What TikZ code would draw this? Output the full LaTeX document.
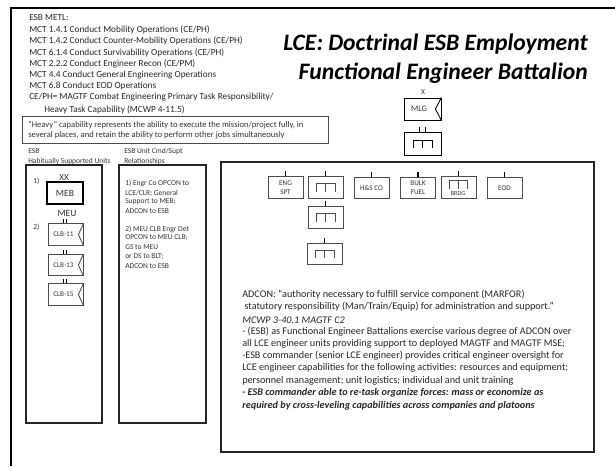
\documentclass[tikz,border=0pt]{standalone}
\usepackage{fontspec}
\setmainfont{Carlito}
\usetikzlibrary{calc}
\tikzset{
  panel/.style={draw=black!85, line width=0.75pt},
  unitbox/.style={draw=black!70, line width=0.6pt, minimum width=0.875cm, minimum height=0.53cm, inner sep=0pt, font=\fontsize{5.1}{6.4}\selectfont, align=center, text=black!80},
  listline/.style={anchor=west, inner sep=0pt, font=\fontsize{6.6}{7}\selectfont, text=black!85},
  bodyline/.style={anchor=west, inner sep=0pt, font=\fontsize{7.25}{8}\selectfont, text=black!85},
  smallline/.style={anchor=west, inner sep=0pt, font=\fontsize{5.35}{6}\selectfont, text=black!80},
  titleline/.style={anchor=east, inner sep=0pt, font=\fontsize{16.8}{18}\selectfont\bfseries\itshape},
  tick/.style={draw=black, line width=0.8pt}
}
\begin{document}
\begin{tikzpicture}[x=0.025cm,y=-0.025cm]
\useasboundingbox (0,0) rectangle (615,466);
% Outer frame
\coordinate (frameA) at (11,466);
\coordinate (frameB) at (11,8);
\coordinate (frameC) at (615,8);
\draw[black, line width=1.5pt] (frameA) -- (frameB) -- (frameC);
% METL list
\foreach \y/\t [count=\i] in {18/{ESB METL:},30/{MCT 1.4.1 Conduct Mobility Operations (CE/PH)},41/{MCT 1.4.2 Conduct Counter-Mobility Operations (CE/PH)},53/{MCT 6.1.4 Conduct Survivability Operations (CE/PH)},64/{MCT 2.2.2 Conduct Engineer Recon (CE/PM)},75/{MCT 4.4 Conduct General Engineering Operations},86/{MCT 6.8  Conduct EOD Operations},97/{CE/PH= MAGTF Combat Engineering Primary Task Responsibility/}} {
  \node[listline] (metl\i) at (29,\y) {\t};
}
\node[listline] (metl9) at (44,110) {Heavy Task Capability (MCWP 4-11.5)};
% Title
\node[titleline] (title1) at (588,44) {LCE: Doctrinal ESB Employment};
\node[titleline] (title2) at (588,73) {Functional Engineer Battalion};
% Heavy note
\draw[panel, draw=black!70, line width=0.6pt] (22,116) rectangle (328,143);
\node[smallline, font=\fontsize{6.1}{7}\selectfont] (heavy1) at (28,125) {``Heavy'' capability represents the ability to execute the mission/project fully, in};
\node[smallline, font=\fontsize{6.1}{7}\selectfont] (heavy2) at (28,135) {several places, and retain the ability to perform other jobs simultaneously};
% Panels
\draw[panel] (26,165) rectangle (102,423);
\draw[panel] (119,165) rectangle (206,423);
\draw[panel] (221,162) rectangle (594,452);
\node[smallline] (esbA) at (28,151) {ESB};
\node[smallline] (esbB) at (28,161) {Habitually Supported Units};
\node[smallline] (relA) at (124,151) {ESB Unit Cmd/Supt};
\node[smallline] (relB) at (124,161) {Relationships};
% Supported units
\node[smallline] (numA) at (33,181) {1)};
\node[smallline] (numB) at (33,227) {2)};
\node[smallline, anchor=center, font=\fontsize{6.5}{7}\selectfont] (xx) at (64,178) {XX};
\node[unitbox, draw=black, line width=1.1pt, minimum width=0.9cm, minimum height=0.55cm, font=\fontsize{6.8}{7}\selectfont] (meb) at (65,193) {MEB};
\node[smallline, anchor=center, font=\fontsize{6.8}{7}\selectfont] (meu) at (67,213) {MEU};
\foreach \n/\y/\t in {clbA/234.5/CLB-11,clbB/265/CLB-13,clbC/294.5/CLB-15} {
  \node[unitbox] (\n) at (65.5,\y) {\t\hspace{3pt}};
  \draw[black!70, line width=0.6pt] (\n.north east) -- ($(\n.east)+(-5,0)$) -- (\n.south east);
  \draw[tick] ($(\n.north)+(-2,0)$) -- ++(0,-4);
  \draw[tick] ($(\n.north)+(1,0)$) -- ++(0,-4);
}
% Command relationships
\foreach \y/\t [count=\i] in {183/{1) Engr Co OPCON to},193/{LCE/CLR; General},202/{Support to MEB;},211/{ADCON to ESB},229/{2)  MEU CLB Engr Det},238/{OPCON to MEU CLB;},247/{GS to MEU},257/{or DS to BLT;},266/{ADCON to ESB}} {
  \node[smallline] (rel\i) at (125,\y) {\t};
}
% MLG and battalion
\node[smallline, anchor=center] (x) at (423,92) {X};
\node[unitbox, draw=black, font=\fontsize{6}{7}\selectfont, minimum width=0.925cm, minimum height=0.55cm] (mlg) at (422.5,109) {MLG\hspace{5pt}};
\draw[black, line width=0.6pt] (mlg.north east) -- ($(mlg.east)+(-6,0)$) -- (mlg.south east);
\node[unitbox, draw=black, minimum width=0.925cm, minimum height=0.56cm] (esb) at (422.5,144) {};
\draw[tick] ($(esb.north)+(-3,0)$) -- ++(0,-5);
\draw[tick] ($(esb.north)+(3,0)$) -- ++(0,-5);
\draw[black, line width=0.6pt] ($(esb.center)+(-9.5,4)$) -- ++(0,-8) -- ++(19,0) -- ++(0,8);
\draw[black, line width=0.6pt] ($(esb.center)+(0,-4)$) -- ++(0,8);
% Companies
\foreach \n/\x/\y/\t in {eng/285.5/187.5/{ENG\\SPT},engA/325.5/187.5/,engB/325.5/217.5/,engC/324.5/254/,hs/371.5/188/H\&S CO,fuel/418/188/{BULK\\FUEL},brdg/458.5/187.5/,eod/504.5/188/EOD} {
  \node[unitbox] (\n) at (\x,\y) {\t};
  \draw[tick] (\n.north) -- ++(0,-5);
}
\node[smallline, anchor=center, font=\fontsize{4.4}{5}\selectfont] (brdgtext) at (458,193.5) {BRDG};
\foreach \n in {engA,engB,engC} {
  \draw[black!70, line width=0.6pt] ($(\n.center)+(-9.5,4)$) -- ++(0,-8) -- ++(19,0) -- ++(0,8);
  \draw[black!70, line width=0.6pt] ($(\n.center)+(0,-4)$) -- ++(0,8);
}
\draw[black!70, line width=0.6pt] ($(brdg.center)+(-9,1)$) -- ++(0,-8) -- ++(18,0) -- ++(0,8);
\draw[black!70, line width=0.6pt] ($(brdg.center)+(0,-7)$) -- ++(0,8);
% ADCON text
\foreach \y/\t [count=\i] in {295/{ADCON: ``authority necessary to fulfill service component (MARFOR)},307/{\ statutory responsibility (Man/Train/Equip) for administration and support.''},320/{\textit{MCWP 3-40.1 MAGTF C2}},332/{- (ESB) as Functional Engineer Battalions exercise various degree of ADCON over},344/{all LCE engineer units providing support to deployed MAGTF and MAGTF MSE;},356/{-ESB commander (senior LCE engineer) provides critical engineer oversight for},368/{LCE engineer capabilities for the following activities: resources and equipment;},381/{personnel management; unit logistics; individual and unit training},393/{\textbf{\textit{- ESB commander able to re-task organize forces: mass or economize as}}},406/{\textbf{\textit{required by cross-leveling capabilities across companies and platoons}}}} {
  \node[bodyline] (adcon\i) at (242,\y) {\t};
}
\end{tikzpicture}
\end{document}
